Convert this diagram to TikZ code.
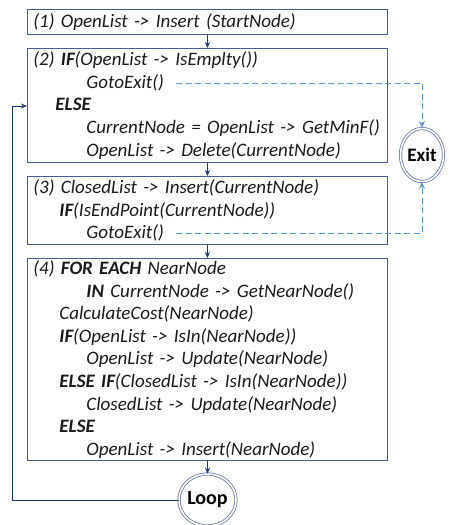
\documentclass[tikz,border=0pt]{standalone}
\usepackage{fontspec}
\setmainfont{Carlito}
\usetikzlibrary{arrows.meta,shapes.geometric}
\definecolor{boxline}{HTML}{4A5D8F}
\definecolor{flow}{HTML}{1F3A78}
\definecolor{exitline}{HTML}{5B9BD5}
\definecolor{txt}{HTML}{1A1A1A}
\newcommand{\kw}[1]{\textbf{#1}}
\newcommand{\lvA}{\hspace*{26pt}}
\newcommand{\lvB}{\hspace*{53pt}}
\begin{document}
\begin{tikzpicture}[x=1pt,y=-1pt,
  stepbox/.style={draw=boxline, line width=0.9pt, anchor=north west,
    minimum width=360pt, text width=348pt, inner xsep=6pt, inner ysep=0pt,
    align=left, text=txt, font=\fontsize{19}{22.6}\selectfont\itshape},
  flowarrow/.style={draw=flow, line width=0.8pt, -{Stealth[length=6pt,width=5pt]}},
  exitarrow/.style={draw=exitline, line width=1pt, dash pattern=on 6pt off 3.5pt,
    -{Stealth[length=7pt,width=6pt]}},
  terminal/.style={ellipse, draw=boxline!80, line width=0.8pt, double=white,
    double distance=1.6pt, fill=white, inner sep=0pt, text=black}]
\useasboundingbox (0,0) rectangle (448,525);

% the four steps of the search
\node[stepbox, minimum height=25pt] (s1) at (27,9)
  {(1) OpenList -> Insert (StartNode)};
\node[stepbox, minimum height=114pt] (s2) at (27,48)
  {(2) \kw{IF}(OpenList -> IsEmplty())\\
   \lvB GotoExit()\\
   \hspace*{22pt}\kw{ELSE}\\
   \lvB CurrentNode = OpenList -> GetMinF()\\
   \lvB OpenList -> Delete(CurrentNode)};
\node[stepbox, minimum height=68pt] (s3) at (27,176)
  {(3) ClosedList -> Insert(CurrentNode)\\
   \lvA\kw{IF}(IsEndPoint(CurrentNode))\\
   \lvB GotoExit()};
\node[stepbox, minimum height=202pt] (s4) at (27,258)
  {(4) \kw{FOR EACH} NearNode\\
   \lvB\kw{IN} CurrentNode -> GetNearNode()\\
   \lvA CalculateCost(NearNode)\\
   \lvA\kw{IF}(OpenList -> IsIn(NearNode))\\
   \lvB OpenList -> Update(NearNode)\\
   \lvA\kw{ELSE IF}(ClosedList -> IsIn(NearNode))\\
   \lvB ClosedList -> Update(NearNode)\\
   \lvA\kw{ELSE}\\
   \lvB OpenList -> Insert(NearNode)};

% terminals
\node[terminal, minimum width=43pt, minimum height=53pt,
  font=\fontsize{19}{19}\selectfont\bfseries] (exit) at (422,155) {Exit};
\node[terminal, minimum width=55pt, minimum height=52pt,
  font=\fontsize{20}{20}\selectfont\bfseries] (loop) at (207.5,500) {Loop};

% the GotoExit() calls
\coordinate (g1) at (176,83);
\coordinate (g2) at (176,233);

% main flow
\draw[flowarrow] (s1.south) -- (s2.north);
\draw[flowarrow] (s2.south) -- (s3.north);
\draw[flowarrow] (s3.south) -- (s4.north);
\draw[flowarrow] (s4.south) -- (loop.north);
\draw[flowarrow] (loop.west) -| (12,106) -- (s2.west |- 0,106);

% jumps to the exit
\draw[exitarrow] (g1) -| (exit.north);
\draw[exitarrow] (g2) -| (exit.south);
\end{tikzpicture}
\end{document}
